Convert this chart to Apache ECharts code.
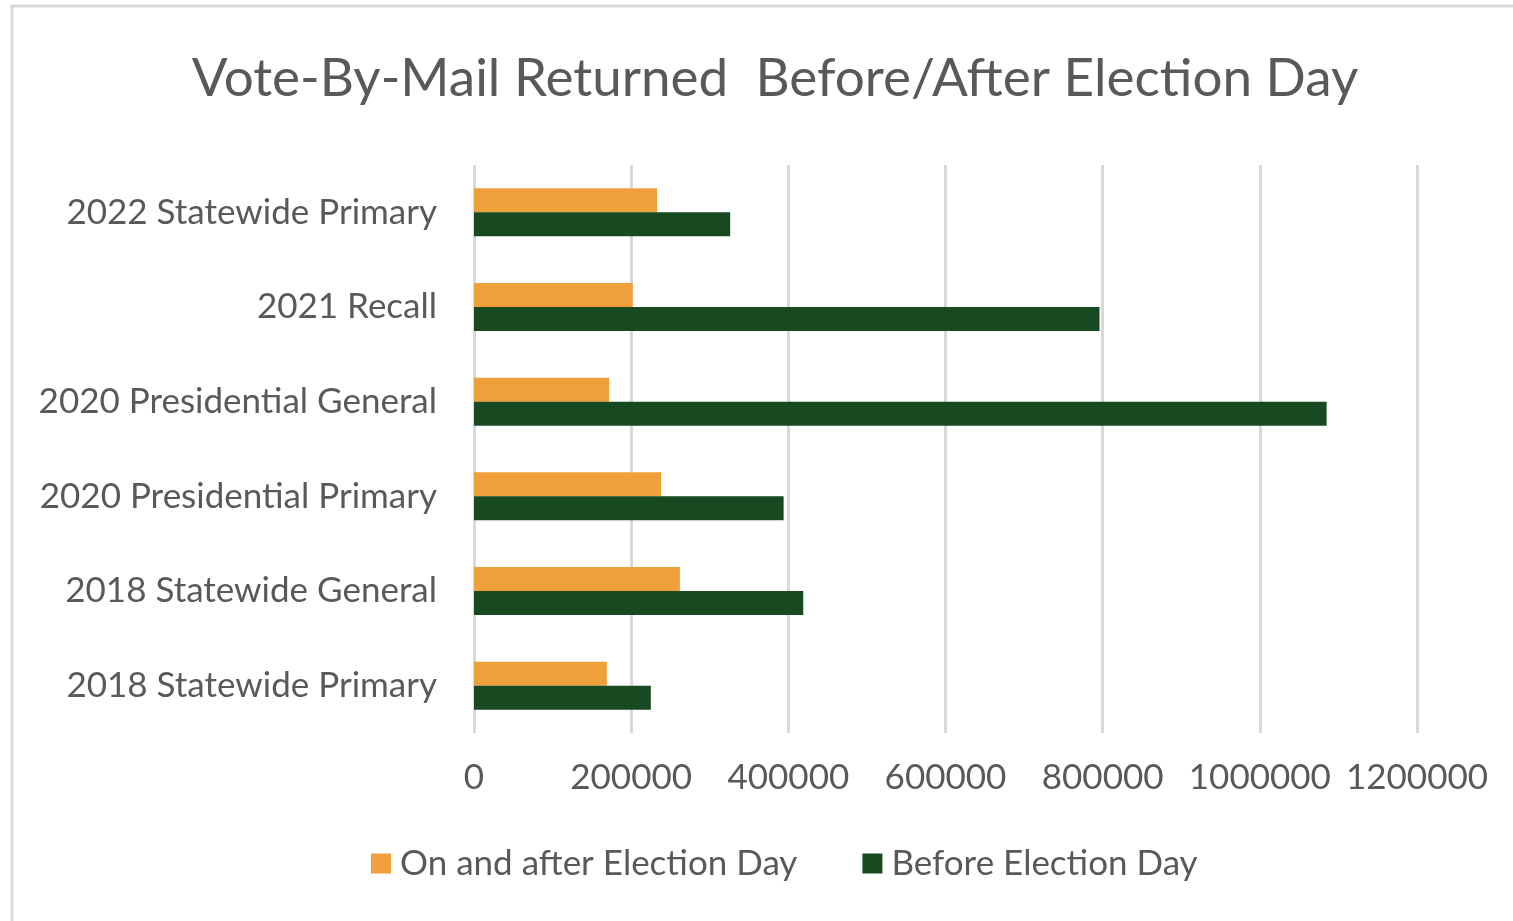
<!DOCTYPE html>
<html>
<head>
<meta charset="utf-8">
<title>Vote-By-Mail Returned Before/After Election Day</title>
<script src="https://cdn.jsdelivr.net/npm/echarts@6/dist/echarts.min.js"></script>
<style>
  html, body { margin: 0; padding: 0; background: #fff; }
  #chart { width: 1513px; height: 921px; }
</style>
</head>
<body>
<div id="chart"></div>
<script>
// categories listed bottom to top (ECharts category y axis starts at the bottom)
const elections = [
  '2018 Statewide Primary',
  '2018 Statewide General',
  '2020 Presidential Primary',
  '2020 Presidential General',
  '2021 Recall',
  '2022 Statewide Primary'
];
const onAndAfter = [169000, 262000, 238000, 172000, 202000, 233000];
const beforeDay = [225000, 419000, 394000, 1085000, 796000, 326000];
const xTicks = [0, 200000, 400000, 600000, 800000, 1000000, 1200000];

const textColor = '#595959';
const fontFamily = 'Lato, "Open Sans", sans-serif';

const chart = echarts.init(document.getElementById('chart'));
chart.setOption({
  backgroundColor: '#fff',
  animation: false,
  textStyle: { fontFamily: fontFamily, color: textColor },
  title: {
    text: 'Vote-By-Mail Returned  Before/After Election Day',
    left: 770,
    top: 47,
    textAlign: 'center',
    textStyle: { fontFamily: fontFamily, fontSize: 53, fontWeight: 'normal', color: textColor }
  },
  graphic: [{
    type: 'rect',
    shape: { x: 12, y: 6, width: 1700, height: 1100 },
    style: { fill: 'none', stroke: '#d9d9d9', lineWidth: 3 },
    silent: true
  }],
  legend: {
    data: ['On and after Election Day', 'Before Election Day'],
    left: 366,
    top: 841,
    itemWidth: 20,
    itemHeight: 20,
    itemGap: 65,
    icon: 'rect',
    textStyle: { fontFamily: fontFamily, fontSize: 35, color: textColor, padding: [0, 0, 0, 4] }
  },
  grid: { left: 474, right: 96, top: 165, bottom: 188, containLabel: false },
  xAxis: {
    type: 'value',
    min: xTicks[0],
    max: xTicks[xTicks.length - 1],
    interval: xTicks[1] - xTicks[0],
    axisLine: { show: false },
    axisTick: { show: false },
    axisLabel: {
      fontFamily: fontFamily, fontSize: 35, color: textColor, margin: 27,
      formatter: v => String(v)
    },
    splitLine: { show: true, lineStyle: { color: '#d9d9d9', width: 3 } }
  },
  yAxis: {
    type: 'category',
    data: elections,
    axisLine: { show: false },
    axisTick: { show: false },
    axisLabel: { fontFamily: fontFamily, fontSize: 35, color: textColor, margin: 37 }
  },
  series: [
    {
      name: 'On and after Election Day',
      type: 'bar',
      data: onAndAfter,
      barWidth: 24,
      barGap: '0%',
      itemStyle: { color: '#f0a03a' }
    },
    {
      name: 'Before Election Day',
      type: 'bar',
      data: beforeDay,
      barWidth: 24,
      barGap: '0%',
      itemStyle: { color: '#174a20' }
    }
  ]
});
</script>
</body>
</html>
